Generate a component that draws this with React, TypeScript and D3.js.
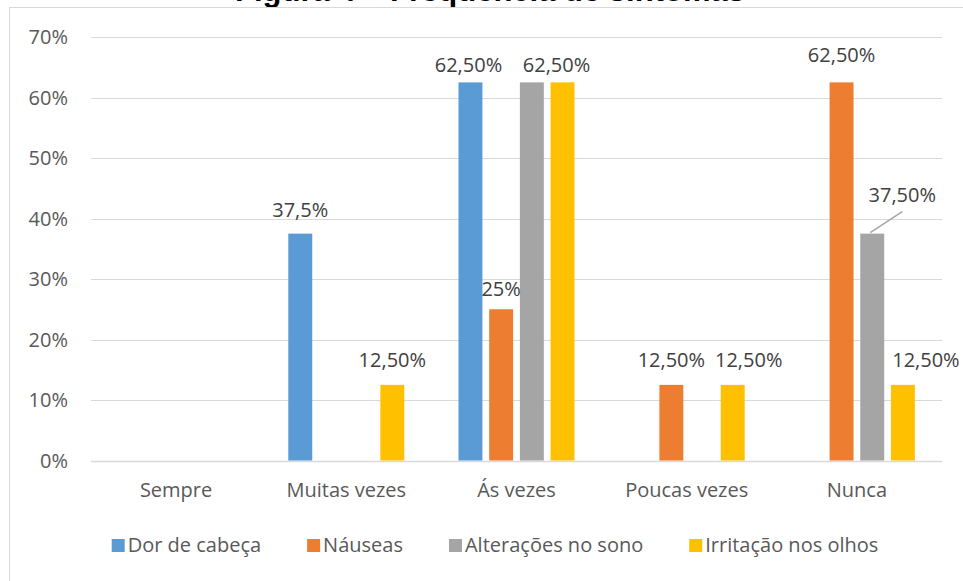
import React from "react";
import * as d3 from "d3";

const categories = ["Sempre", "Muitas vezes", "Ás vezes", "Poucas vezes", "Nunca"];
const seriesNames = ["Dor de cabeça", "Náuseas", "Alterações no sono", "Irritação nos olhos"];
const seriesColors = ["#5B9BD5", "#ED7D31", "#A5A5A5", "#FFC000"];
const dorDeCabeca = [0, 37.5, 62.5, 0, 0];
const nauseas = [0, 0, 25, 12.5, 62.5];
const alteracoesSono = [0, 0, 62.5, 0, 37.5];
const irritacaoOlhos = [0, 12.5, 62.5, 12.5, 12.5];
const dorLabels = [null, "37,5%", "62,50%", null, null];
const nauseasLabels = [null, null, "25%", "12,50%", "62,50%"];
const sonoLabels = [null, null, null, null, "37,50%"];
const olhosLabels = [null, "12,50%", "62,50%", "12,50%", "12,50%"];
const yTicks = [0, 10, 20, 30, 40, 50, 60, 70];
const title = "Figura 4 – Frequência de sintomas";

const seriesValues = [dorDeCabeca, nauseas, alteracoesSono, irritacaoOlhos];
const seriesLabels = [dorLabels, nauseasLabels, sonoLabels, olhosLabels];

// label placement tweaks (series index, category index) -> [dx, dy from bar top, leader]
const labelAdjust: Record<string, [number, number, boolean]> = {
  "0-1": [0, -17, false],
  "0-2": [-2, -10, false],
  "1-2": [0, -13, false],
  "1-3": [0, -18, false],
  "1-4": [0, -20, false],
  "2-4": [30, -32, true],
  "3-1": [0, -18, false],
  "3-2": [-6, -10, false],
  "3-3": [16, -18, false],
  "3-4": [23, -18, false],
};

const W = 963;
const H = 581;
const FONT = "'Open Sans', 'Noto Sans', sans-serif";
const TEXT = "#595959";

function measure(text: string, size: number) {
  const c = document.createElement("canvas").getContext("2d");
  if (!c) return text.length * size * 0.5;
  c.font = `${size}px 'Open Sans'`;
  return c.measureText(text).width;
}

export default function App() {
  const plotLeft = 91;
  const plotRight = 942;
  const plotTop = 37;
  const plotBottom = 460.5;

  const x0 = d3.scaleBand<string>().domain(categories).range([plotLeft, plotRight]).padding(0);
  const groupWidth = 116;
  const x1 = d3
    .scaleBand<string>()
    .domain(seriesNames)
    .range([0, groupWidth])
    .paddingInner(0.22)
    .paddingOuter(0);
  const y = d3.scaleLinear().domain([0, 70]).range([plotBottom, plotTop]);

  const groupStart = (c: string) => (x0(c) as number) + (x0.bandwidth() - groupWidth) / 2;

  // legend layout
  const legendSize = 20;
  const sq = 13;
  const sqGap = 3;
  const itemGap = 46;
  const widths = seriesNames.map((s) => measure(s, legendSize));
  const total = widths.reduce((a, w) => a + sq + sqGap + w, 0) + itemGap * (seriesNames.length - 1);
  let lx = 495 - total / 2;
  const legendItems = seriesNames.map((s, i) => {
    const item = { name: s, x: lx, color: seriesColors[i] };
    lx += sq + sqGap + widths[i] + itemGap;
    return item;
  });

  return (
    <svg
      width={W}
      height={H}
      style={{ position: "absolute", left: 0, top: 0, background: "#fff" }}
      fontFamily={FONT}
    >
      <rect x={0} y={0} width={W} height={H} fill="#fff" />
      <text
        x={490}
        y={1}
        textAnchor="middle"
        fontFamily="'Liberation Sans', Arial, sans-serif"
        fontWeight="bold"
        fontSize={31}
        fill="#000"
      >
        {title}
      </text>
      <rect x={9.5} y={7.5} width={W + 20} height={H + 20} fill="#fff" stroke="#d9d9d9" strokeWidth={1} />

      {/* gridlines */}
      {yTicks.map((t) => (
        <line
          key={t}
          x1={plotLeft}
          x2={plotRight}
          y1={Math.round(y(t)) + 0.5}
          y2={Math.round(y(t)) + 0.5}
          stroke="#d9d9d9"
          strokeWidth={t === 0 ? 1.5 : 1}
        />
      ))}
      {yTicks.map((t) => (
        <text key={"l" + t} x={68} y={y(t)} dy="0.35em" textAnchor="end" fontSize={20} fill={TEXT}>
          {t}%
        </text>
      ))}

      {/* bars */}
      {categories.map((c, ci) =>
        seriesNames.map((s, si) => {
          const v = seriesValues[si][ci];
          if (!v) return null;
          const bx = groupStart(c) + (x1(s) as number);
          return (
            <rect
              key={c + s}
              x={bx}
              y={y(v)}
              width={x1.bandwidth()}
              height={y(0) - y(v)}
              fill={seriesColors[si]}
            />
          );
        })
      )}

      {/* labels */}
      {categories.map((c, ci) =>
        seriesNames.map((s, si) => {
          const lab = seriesLabels[si][ci];
          if (!lab) return null;
          const v = seriesValues[si][ci];
          const cx = groupStart(c) + (x1(s) as number) + x1.bandwidth() / 2;
          const adj = labelAdjust[`${si}-${ci}`] || [0, -12, false];
          const top = y(v);
          return (
            <g key={"t" + c + s}>
              {adj[2] && (
                <line
                  x1={cx - 2}
                  y1={top - 1}
                  x2={cx + adj[0]}
                  y2={top + adj[1] + 10}
                  stroke="#a6a6a6"
                  strokeWidth={1.5}
                />
              )}
              <text x={cx + adj[0]} y={top + adj[1]} textAnchor="middle" fontSize={20} fill="#404040">
                {lab}
              </text>
            </g>
          );
        })
      )}

      {/* category labels */}
      {categories.map((c) => (
        <text
          key={"c" + c}
          x={(x0(c) as number) + x0.bandwidth() / 2}
          y={497}
          textAnchor="middle"
          fontSize={20}
          fill={TEXT}
        >
          {c}
        </text>
      ))}

      {/* legend */}
      {legendItems.map((it) => (
        <g key={"lg" + it.name}>
          <rect x={it.x} y={539} width={sq} height={sq} fill={it.color} />
          <text x={it.x + sq + sqGap} y={552} fontSize={legendSize} fill={TEXT}>
            {it.name}
          </text>
        </g>
      ))}
    </svg>
  );
}
